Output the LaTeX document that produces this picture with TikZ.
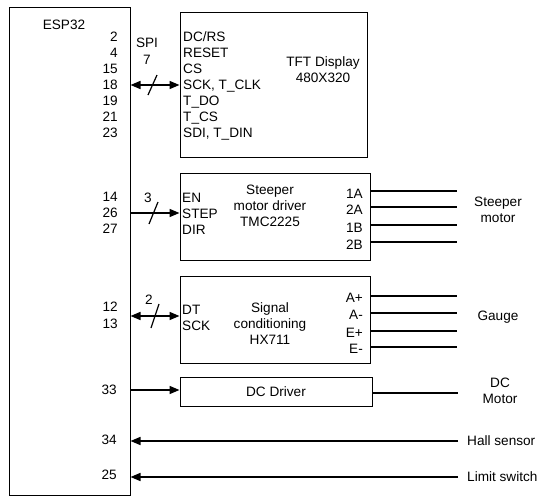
\documentclass[tikz,border=0pt]{standalone}
\usepackage{fontspec}
\setmainfont{Liberation Sans}
\usetikzlibrary{arrows.meta,positioning}

\begin{document}
\begin{tikzpicture}[x=1pt, y=-1pt,
  font=\fontsize{13.6}{16}\selectfont,
  block/.style={draw, line width=1pt, inner sep=0pt},
  pin/.style={inner sep=0pt, text height=9.8pt, text depth=0pt},
  arr/.style={-{Triangle[length=10pt, width=8pt]}, line width=1.6pt},
  biarr/.style={{Triangle[length=10pt, width=8pt]}-{Triangle[length=10pt, width=8pt]}, line width=1.6pt},
  wire/.style={line width=1.3pt},
  slash/.style={line width=1.2pt}
]
\useasboundingbox (0,0) rectangle (540,496);

% blocks
\node[block, minimum width=121pt, minimum height=488pt] (esp) at (69.5,251) {};
\node (esplab) at (64,25) {ESP32};
\node[block, minimum width=187pt, minimum height=145pt] (tft) at (273.5,84.5) {};
\node[block, minimum width=190pt, minimum height=87pt] (drv) at (275,216.5) {};
\node[block, minimum width=190pt, minimum height=87pt] (hx) at (275,319.5) {};
\node[block, minimum width=192pt, minimum height=29pt] (dcd) at (276,391.5) {DC Driver};

% TFT display
\foreach \n [count=\i] in {2,4,15,18,19,21,23}
  \node[pin, anchor=east] (e\n) at (118,21+16*\i) {\n};
\foreach \t [count=\i] in {DC/RS, RESET, CS, {SCK, T\_CLK}, T\_DO, T\_CS, {SDI, T\_DIN}}
  \node[pin, anchor=west] (t\i) at (183,21+16*\i) {\t};
\node[align=center] (tftlab) at (323,70) {TFT Display\\480X320};
\node (spi) at (147,43) {SPI};
\node (spin) at (147,60) {7};
\draw[biarr] (esp.east |- e18) -- (tft.west |- e18);
\coordinate (s1) at (152,85);
\draw[slash] ([shift={(5,-10)}]s1) -- ([shift={(-4,10)}]s1);

% stepper driver
\foreach \n [count=\i] in {14,26,27}
  \node[pin, anchor=east] (e\n) at (118,181+16*\i) {\n};
\foreach \t [count=\i] in {EN, STEP, DIR}
  \node[pin, anchor=west] (d\i) at (182,182+16*\i) {\t};
\node[align=center] (drvlab) at (270,206) {Steeper\\motor driver\\TMC2225};
\draw[arr] (esp.east |- e26) -- (drv.west |- e26);
\node (n3) at (148,198) {3};
\coordinate (s2) at (153.5,213);
\draw[slash] ([shift={(4.5,-11)}]s2) -- ([shift={(-4.5,11)}]s2);
\foreach \t/\y [count=\i] in {1A/191, 2A/207, 1B/225, 2B/242} {
  \node[pin, anchor=east] (o\i) at (363,\y+2.5) {\t};
  \coordinate (m\i) at (457,\y);
  \draw[wire] (drv.east |- m\i) -- (m\i);
}
\node[align=center] (motor) at (498,210) {Steeper\\motor};

% signal conditioning
\node[pin, anchor=east] (e12) at (118,307) {12};
\node[pin, anchor=east] (e13) at (118,324) {13};
\node[pin, anchor=west] (h1) at (182,310) {DT};
\node[pin, anchor=west] (h2) at (182,326) {SCK};
\node[align=center] (hxlab) at (270,324) {Signal\\conditioning\\HX711};
\coordinate (s3) at (155,316);
\draw[biarr] (esp.east |- s3) -- (hx.west |- s3);
\draw[slash] ([shift={(4,-12)}]s3) -- ([shift={(-4,12)}]s3);
\node (n2) at (149,300) {2};
\foreach \t/\y [count=\i] in {A+/296, A-/313, E+/331, E-/347} {
  \node[pin, anchor=east] (g\i) at (363,\y+1.5) {\t};
  \coordinate (k\i) at (457,\y);
  \draw[wire] (hx.east |- k\i) -- (k\i);
}
\node (gauge) at (498,317) {Gauge};

% DC motor and sensors
\node[pin, anchor=east] (e33) at (117,390) {33};
\draw[arr] (esp.east |- e33) -- (dcd.west |- e33);
\coordinate (dcm) at (458,393);
\draw[wire] (dcd.east |- dcm) -- (dcm);
\node[align=center] (dcmot) at (500,391) {DC\\Motor};

\node[pin, anchor=east] (e34) at (117,440) {34};
\node[pin, anchor=west] (hall) at (467,441) {Hall sensor};
\coordinate (hl) at (458,441);
\draw[arr] (hl) -- (esp.east |- hl);

\node[pin, anchor=east] (e25) at (117,475) {25};
\node[pin, anchor=west] (lim) at (467,477) {Limit switch};
\coordinate (ll) at (458,477);
\draw[arr] (ll) -- (esp.east |- ll);
\end{tikzpicture}
\end{document}
